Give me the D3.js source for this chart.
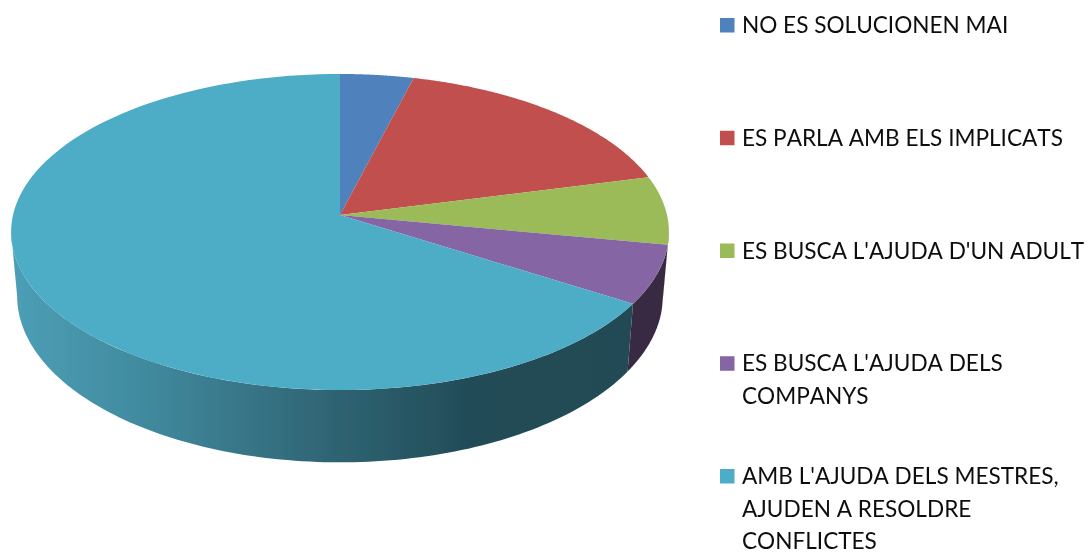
<!DOCTYPE html>
<html>
<head>
<meta charset="utf-8">
<script src="https://cdn.jsdelivr.net/npm/d3@7"></script>
<style>
    html, body { margin: 0; padding: 0; background: #fff; overflow: hidden; }
    svg { display: block; }
    .legend-text { font-family: Lato, sans-serif; font-size: 22.6px; fill: #111; font-kerning: none; }
</style>
</head>
<body>
<div id="chart"></div>
<script>
var categories = [
    ["NO ES SOLUCIONEN MAI"],
    ["ES PARLA AMB ELS IMPLICATS"],
    ["ES BUSCA L'AJUDA D'UN ADULT"],
    ["ES BUSCA L'AJUDA DELS", "COMPANYS"],
    ["AMB L'AJUDA DELS MESTRES,", "AJUDEN A RESOLDRE", "CONFLICTES"]
];
var values = [4, 17, 7, 6, 66];
var colors = ["#4f81bd", "#c0504d", "#9bbb59", "#8565a3", "#4dacc6"];
var wallColors = ["#2f4d71", "#73302e", "#5d7035", "#372b43", "url(#tealWall)"];

var width = 1091, height = 554;
var persp = 0.1076; // far edge of the disc is drawn smaller

var svg = d3.select("#chart")
    .append("svg")
    .attr("width", width)
    .attr("height", height);

var defs = svg.append("defs");

var soft = defs.append("filter").attr("id", "soft");
soft.append("feGaussianBlur").attr("stdDeviation", 0.45);

// Side of the big slice goes darker from left to right
var grad = defs.append("linearGradient")
    .attr("id", "tealWall")
    .attr("gradientUnits", "userSpaceOnUse")
    .attr("x1", 17).attr("x2", 660).attr("y1", 0).attr("y2", 0);
[[0, "#4b9eb5"], [0.18, "#428ca1"], [0.5, "#2e6372"], [0.7, "#234c58"], [1, "#224a55"]].forEach(function (s) {
    grad.append("stop").attr("offset", s[0]).attr("stop-color", s[1]);
});

// Top and bottom rims of the disc
var topFace = { cx: 340, cy: 215, rx: 327, k: 156.2 };
var bottomFace = { cx: 340, cy: 278, rx: 321, k: 164.5 };

// Walls are only visible between the two points where the rim is widest
var sideAngle = Math.acos(-persp);
var wallMin = sideAngle, wallMax = 2 * Math.PI - sideAngle;

function project(face, a) {
    var w = 1 + persp * Math.cos(a);
    return [face.cx + face.rx * Math.sin(a) / w, face.cy - face.k * Math.cos(a) / w];
}

function arcPoints(face, a0, a1) {
    return d3.range(0, 121).map(function (i) {
        return project(face, a0 + (a1 - a0) * i / 120);
    });
}

var pie = d3.pie().sort(null);
var slices = pie(values);
var line = d3.line();

var g = svg.append("g").attr("filter", "url(#soft)");

// Side walls first, the top face then covers the hidden part
g.selectAll(".wall")
    .data(slices.filter(function (d) { return d.endAngle > wallMin && d.startAngle < wallMax; }))
    .join("path")
    .attr("class", "wall")
    .attr("fill", function (d) { return wallColors[d.index]; })
    .attr("d", function (d) {
        var a0 = Math.max(d.startAngle, wallMin);
        var a1 = Math.min(d.endAngle, wallMax);
        var upper = arcPoints(topFace, a0, a1);
        var lower = arcPoints(bottomFace, a0, a1).reverse();
        return line(upper.concat(lower)) + "Z";
    });

g.selectAll(".slice")
    .data(slices)
    .join("path")
    .attr("class", "slice")
    .attr("fill", function (d) { return colors[d.index]; })
    .attr("d", function (d) {
        var pts = [[topFace.cx, topFace.cy]].concat(arcPoints(topFace, d.startAngle, d.endAngle));
        return line(pts) + "Z";
    });

// Legend
var rowY = d3.scaleLinear().domain([0, categories.length - 1]).range([33, 484]);

var legend = svg.append("g").attr("filter", "url(#soft)");
var rows = legend.selectAll(".row")
    .data(categories)
    .join("g")
    .attr("class", "row")
    .attr("transform", function (d, i) { return "translate(720," + rowY(i) + ")"; });

rows.append("rect")
    .attr("x", 0)
    .attr("y", -15)
    .attr("width", 14.5)
    .attr("height", 14.5)
    .attr("fill", function (d, i) { return colors[i]; });

rows.selectAll("text")
    .data(function (d) { return d; })
    .join("text")
    .attr("class", "legend-text")
    .attr("x", 22)
    .attr("y", function (d, i) { return i * 32.5; })
    .text(function (d) { return d; });
</script>
</body>
</html>
